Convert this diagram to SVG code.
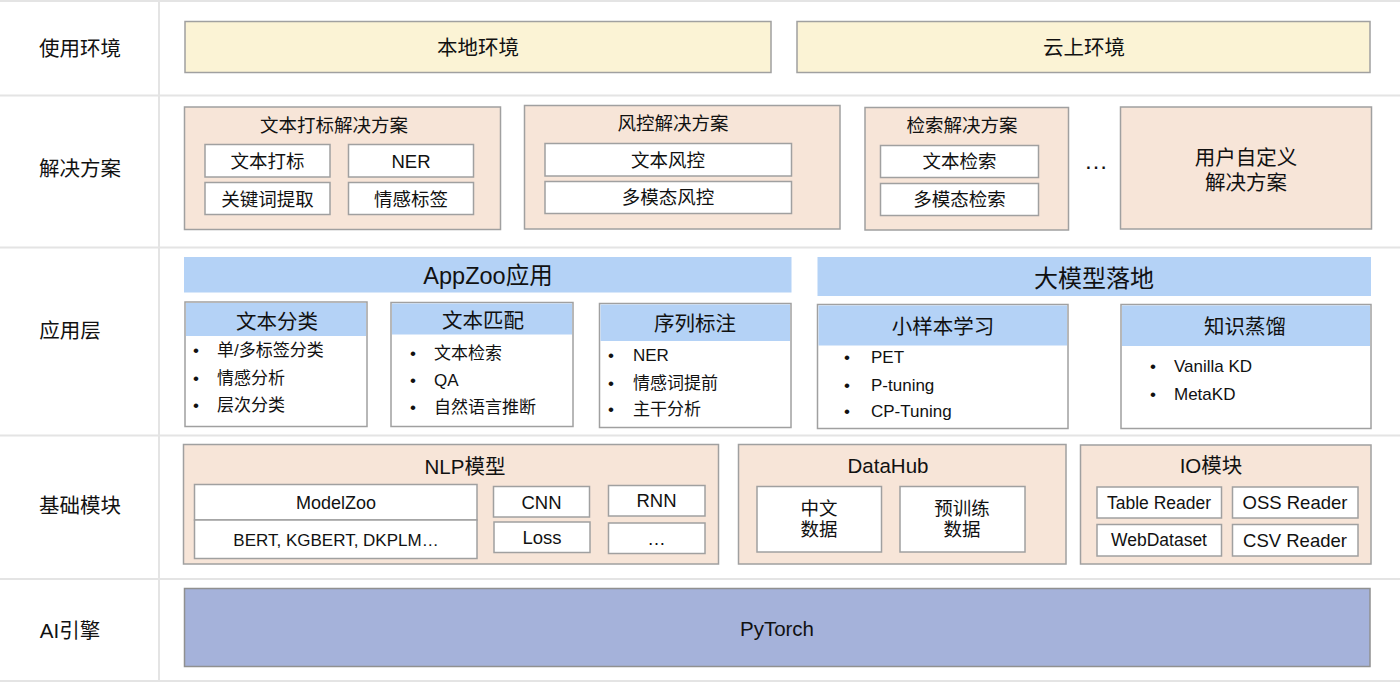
<svg xmlns="http://www.w3.org/2000/svg" width="1400" height="684" viewBox="0 0 1400 684">
<style>
text{font-family:"Liberation Sans","Noto Sans CJK SC",sans-serif;fill:#111;text-anchor:middle;dominant-baseline:central}
.sep{stroke:#E4E4E4;stroke-width:2;fill:none}
.env{fill:#FBF3D5;stroke:#A0A0A0;stroke-width:1.5}
.peach{fill:#F7E5D8;stroke:#A0A0A0;stroke-width:1.5}
.white{fill:#FFFFFF;stroke:#A0A0A0;stroke-width:1.5}
.blue{fill:#B4D2F6}
.hdr{fill:#B4D2F6}
.torch{fill:#A5B2DA;stroke:#909090;stroke-width:1.5}
.lbl{font-size:20.5px}
.t18{font-size:18.5px}
.t20{font-size:20.5px}
.b{font-size:17px;text-anchor:start}
</style>
<rect width="1400" height="684" fill="#FFFFFF"/>
<g id="grid">
<line class="sep" x1="0" y1="1" x2="1400" y2="1"/>
<line class="sep" x1="0" y1="95.5" x2="1400" y2="95.5"/>
<line class="sep" x1="0" y1="247.5" x2="1400" y2="247.5"/>
<line class="sep" x1="0" y1="435.5" x2="1400" y2="435.5"/>
<line class="sep" x1="0" y1="579" x2="1400" y2="579"/>
<line class="sep" x1="0" y1="681" x2="1400" y2="681"/>
<line class="sep" x1="159" y1="0" x2="159" y2="680"/>
</g>
<g id="labels">
<text class="lbl" x="80" y="48">使用环境</text>
<text class="lbl" x="80" y="168">解决方案</text>
<text class="lbl" x="70" y="330">应用层</text>
<text class="lbl" x="80" y="505">基础模块</text>
<text class="lbl" x="70" y="630">AI引擎</text>
</g>
<g id="env-local"><rect class="env" x="185" y="21.5" width="586" height="51"/><text class="t20" x="478" y="47">本地环境</text></g>
<g id="env-cloud"><rect class="env" x="797" y="21.5" width="573" height="51"/><text class="t20" x="1084" y="47">云上环境</text></g>

<g id="sol-tag">
<rect class="peach" x="184.5" y="107" width="316" height="122.5"/>
<text class="t18" x="334" y="125">文本打标解决方案</text>
<rect class="white" x="205" y="144.5" width="125" height="32.5"/><text class="t18" x="267.5" y="161">文本打标</text>
<rect class="white" x="348.5" y="144.5" width="125" height="32.5"/><text class="t18" x="411" y="161">NER</text>
<rect class="white" x="205" y="182.5" width="125" height="32"/><text class="t18" x="267.5" y="199">关键词提取</text>
<rect class="white" x="348.5" y="182.5" width="125" height="32"/><text class="t18" x="411" y="199">情感标签</text>
</g>
<g id="sol-risk">
<rect class="peach" x="524.5" y="105.5" width="315.5" height="123.5"/>
<text class="t18" x="673" y="123">风控解决方案</text>
<rect class="white" x="545" y="143.5" width="246.5" height="32.5"/><text class="t18" x="668" y="160">文本风控</text>
<rect class="white" x="545" y="181.5" width="246.5" height="32"/><text class="t18" x="668" y="197.5">多模态风控</text>
</g>
<g id="sol-search">
<rect class="peach" x="865" y="107.5" width="203.5" height="122.5"/>
<text class="t18" x="962" y="125">检索解决方案</text>
<rect class="white" x="880.5" y="145.5" width="158" height="32"/><text class="t18" x="959.5" y="161.5">文本检索</text>
<rect class="white" x="880.5" y="183.5" width="158" height="32"/><text class="t18" x="959.5" y="199.5">多模态检索</text>
</g>
<g id="sol-more"><text x="1096" y="160" style="font-size:24px">…</text></g>
<g id="sol-custom">
<rect class="peach" x="1120.5" y="107" width="251" height="122"/>
<text class="t20" x="1246" y="157">用户自定义</text>
<text class="t20" x="1246" y="182">解决方案</text>
</g>

<g id="appzoo"><rect class="blue" x="184" y="257" width="607.5" height="35.5"/><text x="488" y="276" style="font-size:23.5px">AppZoo应用</text></g>
<g id="bigmodel"><rect class="blue" x="817.5" y="257" width="553.5" height="39"/><text x="1094" y="278" style="font-size:24px">大模型落地</text></g>

<g id="app-cls">
<rect class="white" x="185" y="302" width="182" height="124.5"/>
<rect class="hdr" x="186" y="303" width="180" height="33"/>
<text class="t20" x="277" y="321">文本分类</text>
<text class="b" x="193" y="350">•</text><text class="b" x="217" y="350">单/多标签分类</text>
<text class="b" x="193" y="378">•</text><text class="b" x="217" y="378">情感分析</text>
<text class="b" x="193" y="405">•</text><text class="b" x="217" y="405">层次分类</text>
</g>
<g id="app-match">
<rect class="white" x="391" y="302.5" width="182" height="124"/>
<rect class="hdr" x="392" y="303.5" width="180" height="31"/>
<text class="t20" x="483" y="320">文本匹配</text>
<text class="b" x="410" y="353">•</text><text class="b" x="434" y="353">文本检索</text>
<text class="b" x="410" y="380">•</text><text class="b" x="434" y="380">QA</text>
<text class="b" x="410" y="407">•</text><text class="b" x="434" y="407">自然语言推断</text>
</g>
<g id="app-seq">
<rect class="white" x="599.5" y="303.5" width="191.5" height="124"/>
<rect class="hdr" x="600.5" y="304.5" width="189.5" height="36.5"/>
<text class="t20" x="695" y="323.5">序列标注</text>
<text class="b" x="608" y="355">•</text><text class="b" x="633" y="355">NER</text>
<text class="b" x="608" y="383">•</text><text class="b" x="633" y="383">情感词提前</text>
<text class="b" x="608" y="409">•</text><text class="b" x="633" y="409">主干分析</text>
</g>
<g id="app-fewshot">
<rect class="white" x="817.5" y="304.5" width="250.5" height="124"/>
<rect class="hdr" x="818.5" y="305.5" width="248.5" height="40"/>
<text class="t20" x="943" y="326">小样本学习</text>
<text class="b" x="844" y="357">•</text><text class="b" x="871" y="357">PET</text>
<text class="b" x="844" y="385">•</text><text class="b" x="871" y="385">P-tuning</text>
<text class="b" x="844" y="411">•</text><text class="b" x="871" y="411">CP-Tuning</text>
</g>
<g id="app-kd">
<rect class="white" x="1121" y="304.5" width="250" height="124"/>
<rect class="hdr" x="1122" y="305.5" width="248" height="40.5"/>
<text class="t20" x="1245" y="326">知识蒸馏</text>
<text class="b" x="1150" y="366">•</text><text class="b" x="1174" y="366">Vanilla KD</text>
<text class="b" x="1150" y="394">•</text><text class="b" x="1174" y="394">MetaKD</text>
</g>

<g id="nlp">
<rect class="peach" x="183.5" y="444.5" width="535" height="119.5"/>
<text class="t20" x="465" y="466">NLP模型</text>
<rect class="white" x="194.5" y="484.5" width="282.5" height="35.5"/><text x="336" y="503" style="font-size:18px">ModelZoo</text>
<rect class="white" x="194.5" y="520" width="282.5" height="38.5"/><text x="336" y="540" style="font-size:17px">BERT, KGBERT, DKPLM…</text>
<rect class="white" x="493.5" y="486.5" width="96" height="30.5"/><text class="t18" x="541.5" y="502">CNN</text>
<rect class="white" x="608.5" y="485.5" width="96.5" height="30.5"/><text class="t18" x="656.5" y="500.5">RNN</text>
<rect class="white" x="494" y="522" width="96" height="30.5"/><text class="t18" x="542" y="537">Loss</text>
<rect class="white" x="608.5" y="523" width="96.5" height="30.5"/><text class="t18" x="656.5" y="538">…</text>
</g>
<g id="datahub">
<rect class="peach" x="738.5" y="444.5" width="327.5" height="119.5"/>
<text class="t20" x="888" y="465.5">DataHub</text>
<rect class="white" x="757" y="486.5" width="124.5" height="65.5"/>
<text class="t18" x="819" y="508.5">中文</text><text class="t18" x="819" y="529.5">数据</text>
<rect class="white" x="900" y="486.5" width="125" height="65.5"/>
<text class="t18" x="962" y="508.5">预训练</text><text class="t18" x="962" y="529.5">数据</text>
</g>
<g id="io">
<rect class="peach" x="1080.5" y="445" width="290.5" height="119"/>
<text class="t20" x="1211" y="465.5">IO模块</text>
<rect class="white" x="1097" y="487" width="124.5" height="31"/><text x="1159" y="502.5" style="font-size:17.5px">Table Reader</text>
<rect class="white" x="1232.5" y="487" width="125.5" height="31"/><text class="t18" x="1295" y="502.5">OSS Reader</text>
<rect class="white" x="1097" y="524.5" width="124.5" height="31.5"/><text x="1159" y="540" style="font-size:17.5px">WebDataset</text>
<rect class="white" x="1232.5" y="524.5" width="125.5" height="31.5"/><text class="t18" x="1295" y="540">CSV Reader</text>
</g>
<g id="pytorch">
<rect class="torch" x="184.5" y="588.5" width="1185.5" height="78"/>
<text class="t20" x="777" y="628">PyTorch</text>
</g>
<g id="connectors"></g>
</svg>
